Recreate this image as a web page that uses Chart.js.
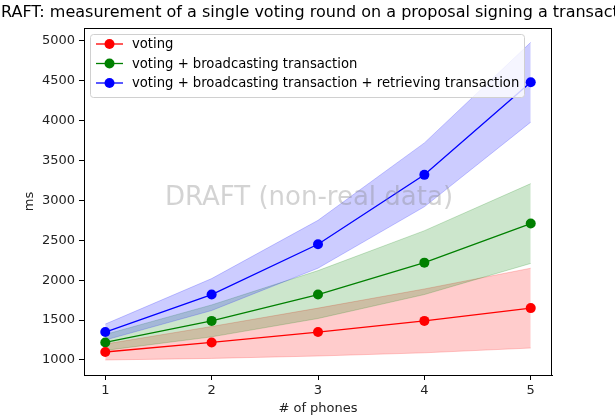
<!DOCTYPE html>
<html>
<head>
<meta charset="utf-8">
<script src="https://cdn.jsdelivr.net/npm/chart.js@4/dist/chart.umd.min.js"></script>
<style>
  html, body { margin: 0; padding: 0; background: #fff; }
  #wrap { width: 615px; height: 419px; }
</style>
</head>
<body>
<div id="wrap"><canvas id="c" width="615" height="419"></canvas></div>
<script>
// --- data ---
const phones = [1, 2, 3, 4, 5];
const seriesNames = [
  'voting',
  'voting + broadcasting transaction',
  'voting + broadcasting transaction + retrieving transaction',
];
const votingMs = [1100, 1220, 1350, 1490, 1650];
const votingLow = [1000, 1020, 1050, 1090, 1150];
const votingHigh = [1200, 1420, 1650, 1890, 2150];

const broadcastMs = [1220, 1490, 1820, 2220, 2710];
const broadcastLow = [1120, 1290, 1520, 1820, 2210];
const broadcastHigh = [1320, 1690, 2120, 2620, 3210];

const retrieveMs = [1350, 1820, 2450, 3320, 4480];
const retrieveLow = [1250, 1620, 2150, 2920, 3980];
const retrieveHigh = [1450, 2020, 2750, 3720, 4980];

const xTicks = [1, 2, 3, 4, 5];
const yTicks = [1000, 1500, 2000, 2500, 3000, 3500, 4000, 4500, 5000];

const titleText = 'RAFT: measurement of a single voting round on a proposal signing a transaction';
const watermarkText = 'DRAFT (non-real data)';

const colors = ['#ff0000', '#008000', '#0000ff'];
const bandColors = ['rgba(255,0,0,0.2)', 'rgba(0,128,0,0.2)', 'rgba(0,0,255,0.2)'];
const font = "'DejaVu Sans', sans-serif";

const pts = ys => phones.map((x, i) => ({ x, y: ys[i] }));

function lineSet(i, ys) {
  return {
    label: seriesNames[i], data: pts(ys), order: 0,
    borderColor: colors[i], backgroundColor: colors[i], borderWidth: 1.3,
    pointRadius: 5, pointBorderWidth: 0, pointBackgroundColor: colors[i], fill: false,
  };
}
function bandSets(i, lo, hi, order) {
  return [
    { label: '_lo' + i, data: pts(lo), order, borderColor: bandColors[i], borderWidth: 1, pointRadius: 0, fill: false },
    { label: '_hi' + i, data: pts(hi), order, borderColor: bandColors[i], borderWidth: 1, pointRadius: 0,
      backgroundColor: bandColors[i], fill: '-1' },
  ];
}

const datasets = [
  lineSet(0, votingMs), lineSet(1, broadcastMs), lineSet(2, retrieveMs),
  ...bandSets(0, votingLow, votingHigh, 3),
  ...bandSets(1, broadcastLow, broadcastHigh, 2),
  ...bandSets(2, retrieveLow, retrieveHigh, 1),
];

const decor = {
  id: 'decor',
  afterDatasetsDraw(chart) {
    const { ctx, chartArea: a } = chart;
    ctx.save();
    // watermark
    ctx.fillStyle = 'rgba(128,128,128,0.35)';
    ctx.font = '26px ' + font;
    ctx.textAlign = 'center';
    ctx.textBaseline = 'middle';
    ctx.fillText(watermarkText, (a.left + a.right) / 2 - 9, 198);
    // frame
    ctx.strokeStyle = '#000';
    ctx.lineWidth = 1;
    ctx.strokeRect(Math.round(a.left) + 0.5, Math.round(a.top) + 0.5, Math.round(a.right - a.left) - 1, Math.round(a.bottom - a.top));
    // legend
    const lx = a.left + 6, ly = a.top + 6, lw = 434, lh = 63;
    ctx.fillStyle = 'rgba(255,255,255,0.8)';
    ctx.strokeStyle = '#d0d0d0';
    ctx.beginPath();
    ctx.roundRect(lx + 0.5, ly + 0.5, lw, lh, 3);
    ctx.fill();
    ctx.stroke();
    ctx.font = '13.2px ' + font;
    ctx.textAlign = 'left';
    seriesNames.forEach((name, i) => {
      const y = ly + 10 + i * 19.5;
      ctx.strokeStyle = colors[i];
      ctx.lineWidth = 1.3;
      ctx.beginPath();
      ctx.moveTo(lx + 6, y); ctx.lineTo(lx + 33, y);
      ctx.stroke();
      ctx.fillStyle = colors[i];
      ctx.beginPath();
      ctx.arc(lx + 19.5, y, 5, 0, Math.PI * 2);
      ctx.fill();
      ctx.fillStyle = '#000';
      ctx.fillText(name, lx + 42, y + 1);
    });
    // title
    ctx.font = '16px ' + font;
    ctx.textAlign = 'left';
    ctx.fillStyle = '#000';
    ctx.fillText(titleText, 1, 13);
    ctx.restore();
  },
};

new Chart(document.getElementById('c'), {
  type: 'line',
  data: { datasets },
  options: {
    responsive: false,
    animation: false,
    layout: { padding: { top: 28, right: 63, left: 0, bottom: 0 } },
    plugins: { legend: { display: false }, tooltip: { enabled: false }, title: { display: false } },
    scales: {
      x: {
        type: 'linear', min: 0.8, max: 5.2,
        afterFit: s => { s.height = 44; },
        afterBuildTicks: s => { s.ticks = xTicks.map(v => ({ value: v })); },
        grid: { drawOnChartArea: false, drawTicks: true, tickLength: 5, color: '#000' },
        border: { display: true, color: '#000' },
        ticks: { color: '#222', font: { family: font, size: 13 }, padding: 3, maxRotation: 0, callback: v => String(v) },
        title: { display: true, text: '# of phones', color: '#222', font: { family: font, size: 13 }, padding: { top: 0, bottom: 3 } },
      },
      y: {
        type: 'linear', min: 812, max: 5160,
        afterFit: s => { s.width = 84; },
        afterBuildTicks: s => { s.ticks = yTicks.map(v => ({ value: v })); },
        grid: { drawOnChartArea: false, drawTicks: true, tickLength: 5, color: '#000' },
        border: { display: true, color: '#000' },
        ticks: { color: '#222', font: { family: font, size: 13 }, padding: 4, callback: v => String(v) },
        title: { display: true, text: 'ms', color: '#222', font: { family: font, size: 13 }, padding: { top: 22, bottom: 0 } },
      },
    },
  },
  plugins: [decor],
});
</script>
</body>
</html>
